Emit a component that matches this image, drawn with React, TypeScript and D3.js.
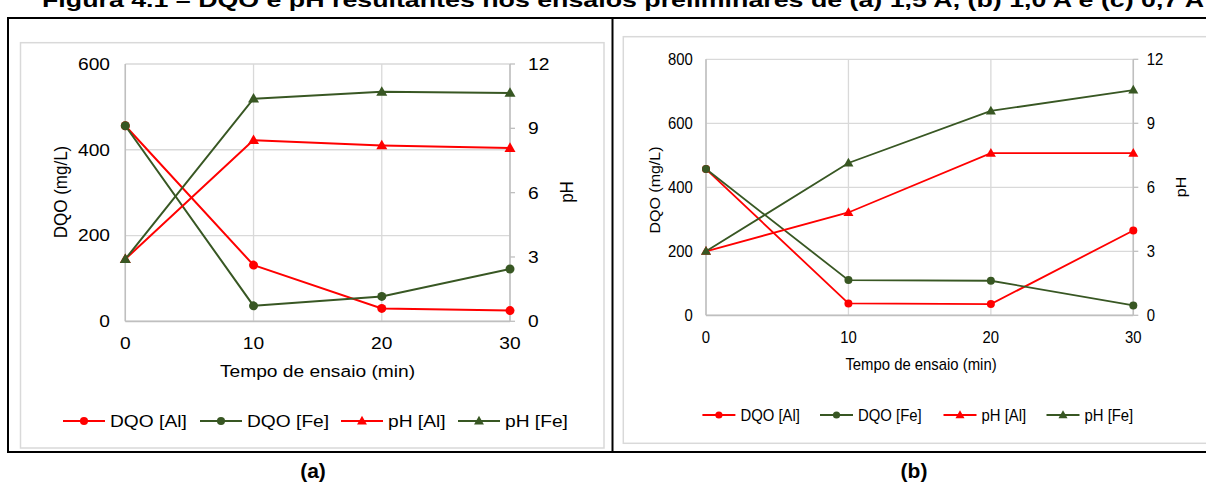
import React, { useRef, useEffect } from 'react'
import * as d3 from 'd3'

// ensaio times (min)
const times = [0, 10, 20, 30]

// (a) 1,5 A
const dqoAlA = [456, 131, 30, 25]
const dqoFeA = [456, 36, 58, 122]
const phAlA = [2.9, 8.45, 8.2, 8.08]
const phFeA = [2.9, 10.38, 10.7, 10.65]

// (b) 1,0 A
const dqoAlB = [457, 37, 35, 265]
const dqoFeB = [457, 110, 108, 31]
const phAlB = [3.0, 4.82, 7.6, 7.6]
const phFeB = [3.0, 7.14, 9.58, 10.56]

const leftTicksA = [0, 200, 400, 600]
const leftTicksB = [0, 200, 400, 600, 800]
const phTicks = [0, 3, 6, 9, 12]

const seriesNames = ['DQO [Al]', 'DQO [Fe]', 'pH [Al]', 'pH [Fe]']
const figTitle = 'Figura 4.1 – DQO e pH resultantes nos ensaios preliminares de (a) 1,5 A, (b) 1,0 A e (c) 0,7 A'

const RED = '#ff0000'
const GREEN = '#385723'
const FONT = 'Liberation Sans, Arial, sans-serif'

const panels = [
  {
    tag: '(a)', tagX: 313,
    dqoAl: dqoAlA, dqoFe: dqoFeA, phAl: phAlA, phFe: phFeA,
    leftTicks: leftTicksA, leftMax: 600,
    box: { x: 20.5, y: 42.7, w: 583.5, h: 405.3 },
    plot: { l: 125.3, r: 510, t: 64, b: 321.3 },
    fs: 17, sx: 1.13,
    legendX: [63, 200, 341, 458], legendLen: 42, legendY: 421,
    xTitle: [317.5, 377], yTitle: [60, 192], phTitle: [566, 192],
    tickY: 349, leftEnd: 110, rightStart: 528,
    r: 4.5, tri: 11, sw: 2,
  },
  {
    tag: '(b)', tagX: 914,
    dqoAl: dqoAlB, dqoFe: dqoFeB, phAl: phAlB, phFe: phFeB,
    leftTicks: leftTicksB, leftMax: 800,
    box: { x: 623.3, y: 36.7, w: 600, h: 406.6 },
    plot: { l: 706, r: 1133.3, t: 59.3, b: 315.3 },
    fs: 16, sx: 0.93,
    legendX: [702.4, 820, 943.5, 1046.5], legendLen: 33, legendY: 415,
    xTitle: [921, 370], yTitle: [655, 190], phTitle: [1181, 187],
    tickY: 342.5, leftEnd: 692.7, rightStart: 1146.7,
    r: 4, tri: 10, sw: 1.8,
  },
]

const App = () => {
  const ref = useRef(null)

  useEffect(() => {
    const svg = d3.select(ref.current)
    svg.selectAll('*').remove()

    // caption at the very top, cut by the page edge as in the source
    svg.append('text')
      .attr('x', 42).attr('y', 7)
      .attr('font-family', FONT).attr('font-weight', 'bold').attr('font-size', 20)
      .attr('textLength', 1162).attr('lengthAdjust', 'spacingAndGlyphs')
      .text(figTitle)

    // outer frame
    const frame = svg.append('g').attr('stroke', '#000').attr('stroke-width', 2)
    frame.append('line').attr('x1', 8).attr('x2', 1206).attr('y1', 18).attr('y2', 18)
    frame.append('line').attr('x1', 8).attr('x2', 1206).attr('y1', 452).attr('y2', 452)
    frame.append('line').attr('x1', 8).attr('x2', 8).attr('y1', 17).attr('y2', 453)
    frame.append('line').attr('x1', 612.5).attr('x2', 612.5).attr('y1', 17).attr('y2', 453)

    const txt = (g, x, y, s, p, anchor, extra = {}) => {
      const t = g.append('text')
        .attr('transform', `translate(${x},${y}) scale(${p.sx},1)${extra.rot ? ' rotate(-90)' : ''}`)
        .attr('text-anchor', anchor)
        .attr('font-family', FONT)
        .attr('font-size', extra.fs || p.fs)
        .attr('fill', '#000')
        .text(s)
      if (extra.dy) t.attr('dy', extra.dy)
      return t
    }

    panels.forEach(p => {
      const g = svg.append('g')

      g.append('rect')
        .attr('x', p.box.x).attr('y', p.box.y).attr('width', p.box.w).attr('height', p.box.h)
        .attr('fill', '#fff').attr('stroke', '#d9d9d9').attr('stroke-width', 1.5)

      const x = d3.scaleLinear().domain([0, 30]).range([p.plot.l, p.plot.r])
      const yL = d3.scaleLinear().domain([0, p.leftMax]).range([p.plot.b, p.plot.t])
      const yR = d3.scaleLinear().domain([0, 12]).range([p.plot.b, p.plot.t])

      // grid
      p.leftTicks.forEach(v => {
        g.append('line').attr('x1', p.plot.l).attr('x2', p.plot.r)
          .attr('y1', yL(v)).attr('y2', yL(v))
          .attr('stroke', '#d9d9d9').attr('stroke-width', 1.3)
      })
      times.forEach(t => {
        g.append('line').attr('x1', x(t)).attr('x2', x(t))
          .attr('y1', p.plot.t).attr('y2', p.plot.b)
          .attr('stroke', '#d9d9d9').attr('stroke-width', 1.3)
      })
      // axis lines
      g.append('line').attr('x1', p.plot.l).attr('x2', p.plot.l).attr('y1', p.plot.t).attr('y2', p.plot.b)
        .attr('stroke', '#bfbfbf').attr('stroke-width', 1.5)
      g.append('line').attr('x1', p.plot.r).attr('x2', p.plot.r).attr('y1', p.plot.t).attr('y2', p.plot.b)
        .attr('stroke', '#bfbfbf').attr('stroke-width', 1.5)
      g.append('line').attr('x1', p.plot.l).attr('x2', p.plot.r).attr('y1', p.plot.b).attr('y2', p.plot.b)
        .attr('stroke', '#bfbfbf').attr('stroke-width', 1.8)
      phTicks.forEach(v => {
        g.append('line').attr('x1', p.plot.r).attr('x2', p.plot.r + 5)
          .attr('y1', yR(v)).attr('y2', yR(v))
          .attr('stroke', '#bfbfbf').attr('stroke-width', 1.3)
      })

      // tick labels
      p.leftTicks.forEach(v => txt(g, p.leftEnd, yL(v), String(v), p, 'end', { dy: '0.35em' }))
      phTicks.forEach(v => txt(g, p.rightStart, yR(v), String(v), p, 'start', { dy: '0.35em' }))
      times.forEach(t => txt(g, x(t), p.tickY, String(t), p, 'middle'))

      // axis titles
      txt(g, p.xTitle[0], p.xTitle[1], 'Tempo de ensaio (min)', p, 'middle')
      txt(g, p.yTitle[0], p.yTitle[1], 'DQO (mg/L)', p, 'middle', { rot: true, dy: '0.35em' })
      txt(g, p.phTitle[0], p.phTitle[1], 'pH', p, 'middle', { rot: true, dy: '0.35em' })

      const series = [
        { vals: p.dqoAl, y: yL, color: RED, shape: 'circle' },
        { vals: p.dqoFe, y: yL, color: GREEN, shape: 'circle' },
        { vals: p.phAl, y: yR, color: RED, shape: 'tri' },
        { vals: p.phFe, y: yR, color: GREEN, shape: 'tri' },
      ]

      const triPath = (cx, cy, s) => {
        const h = s * 0.87
        return `M${cx},${cy - h * 0.6}L${cx + s / 2},${cy + h * 0.4}L${cx - s / 2},${cy + h * 0.4}Z`
      }

      const drawMarker = (sel, shape, cx, cy, color, scale = 1) => {
        if (shape === 'circle') {
          sel.append('circle').attr('cx', cx).attr('cy', cy).attr('r', p.r * scale).attr('fill', color)
        } else {
          sel.append('path').attr('d', triPath(cx, cy, p.tri * scale)).attr('fill', color)
        }
      }

      series.forEach(s => {
        const line = d3.line<number>()
          .x((d, i) => x(times[i]))
          .y(d => s.y(d))
        g.append('path').datum(s.vals)
          .attr('d', line)
          .attr('fill', 'none').attr('stroke', s.color).attr('stroke-width', p.sw)
      })
      series.forEach(s => {
        s.vals.forEach((v, i) => drawMarker(g, s.shape, x(times[i]), s.y(v), s.color))
      })

      // legend
      series.forEach((s, i) => {
        const lx = p.legendX[i]
        g.append('line').attr('x1', lx).attr('x2', lx + p.legendLen)
          .attr('y1', p.legendY).attr('y2', p.legendY)
          .attr('stroke', s.color).attr('stroke-width', p.sw)
        drawMarker(g, s.shape, lx + p.legendLen / 2, p.legendY, s.color, 0.9)
        txt(g, lx + p.legendLen + 5, p.legendY, seriesNames[i], p, 'start', { dy: '0.35em' })
      })

      // panel tag
      svg.append('text')
        .attr('x', p.tagX).attr('y', 478)
        .attr('text-anchor', 'middle')
        .attr('font-family', FONT).attr('font-weight', 'bold').attr('font-size', 21)
        .text(p.tag)
    })
  }, [])

  return (
    <div style={{ position: 'absolute', left: 0, top: 0 }}>
      <svg ref={ref} width={1206} height={483} style={{ display: 'block', background: '#fff' }} />
    </div>
  )
}

export default App
